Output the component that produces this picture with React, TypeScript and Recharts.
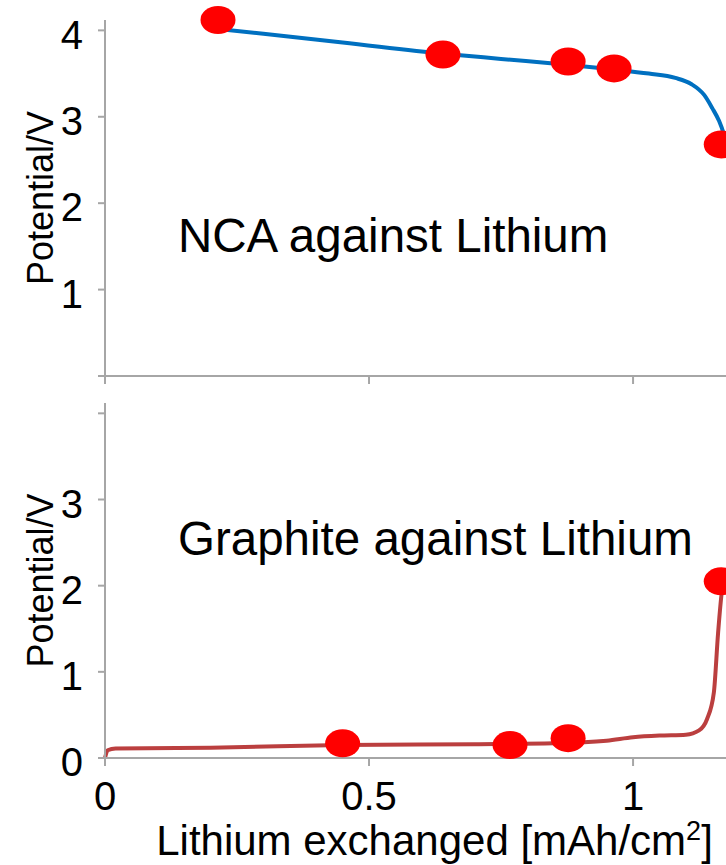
import { ComposedChart, Line, Scatter, XAxis, YAxis } from 'recharts';

const FONT = '"Liberation Sans", Arial, Helvetica, sans-serif';
const AXIS_GREY = '#a6a6a6';

// capacity axis (mAh/cm2)
const xTicks = [0, 0.5, 1];
const xDomain = [0, 1.176];
const voltTicks = [0, 1, 2, 3, 4];

// NCA against Lithium
const ncaLineX = [0.21, 0.3, 0.45, 0.64, 0.75, 0.88, 0.96, 1.03, 1.08, 1.11, 1.135, 1.15, 1.163, 1.172, 1.176];
const ncaLineV = [4.02, 3.96, 3.86, 3.73, 3.67, 3.6, 3.55, 3.5, 3.45, 3.38, 3.25, 3.1, 2.95, 2.8, 2.72];
const ncaDotX = [0.214, 0.64, 0.877, 0.964, 1.167];
const ncaDotV = [4.12, 3.72, 3.64, 3.56, 2.68];

// Graphite against Lithium
const graLineX = [0, 0.005, 0.02, 0.2, 0.45, 0.7, 0.85, 0.95, 1.0, 1.05, 1.1, 1.125, 1.14, 1.153, 1.161, 1.167, 1.176];
const graLineV = [0, 0.09, 0.11, 0.12, 0.15, 0.16, 0.17, 0.2, 0.24, 0.26, 0.27, 0.32, 0.45, 0.76, 1.45, 1.87, 2.2];
const graDotX = [0.45, 0.767, 0.877, 1.167];
const graDotV = [0.17, 0.15, 0.23, 2.05];

const zip = (xs: number[], ys: number[]) => xs.map((x, i) => ({ x, y: ys[i] }));

const ncaLine = zip(ncaLineX, ncaLineV);
const ncaDots = zip(ncaDotX, ncaDotV);
const graLine = zip(graLineX, graLineV);
const graDots = zip(graDotX, graDotV);

const RedDot = (props: any) => (
  <ellipse cx={props.cx} cy={props.cy} rx={17.5} ry={14} fill="#ff0000" />
);

const YTitle = ({ viewBox }: any) => (
  <text
    x={53}
    y={viewBox.y + viewBox.height / 2}
    transform={`rotate(-90, 53, ${viewBox.y + viewBox.height / 2})`}
    textAnchor="middle"
    fontSize={36}
    fontFamily={FONT}
    fill="#000"
  >
    Potential/V
  </text>
);

// bottom panel sits 383px down the page, title baseline at page y 855
const XTitle = ({ viewBox }: any) => (
  <text
    x={viewBox.x + viewBox.width / 2 + 19}
    y={855 - 383}
    textAnchor="middle"
    fontSize={42}
    fontFamily={FONT}
    fill="#000"
  >
    Lithium exchanged [mAh/cm
    <tspan dy={-15} fontSize={27}>2</tspan>
    <tspan dy={15}>]</tspan>
  </text>
);

const tickStyle = { fontSize: 40, fill: '#000', fontFamily: FONT };
const axisLine = { stroke: AXIS_GREY, strokeWidth: 2 };
const tickLine = { stroke: AXIS_GREY, strokeWidth: 2 };
const NoLabel = () => <g />;

const VoltTick = ({ x, y, payload, hideVolt }: any) =>
  payload.value === hideVolt ? (
    <g />
  ) : (
    <text x={x} y={y + 4} dy="0.355em" textAnchor="end" {...tickStyle}>
      {payload.value}
    </text>
  );

interface PanelProps {
  line: { x: number; y: number }[];
  dots: { x: number; y: number }[];
  color: string;
  caption: string;
  captionY: number;
  height: number;
  xAxisHeight: number;
  showXLabels: boolean;
  hideVolt: number;
}

function Panel({ line, dots, color, caption, captionY, height, xAxisHeight, showXLabels, hideVolt }: PanelProps) {
  return (
    <ComposedChart width={726} height={height} margin={{ top: 20, right: 0, bottom: 0, left: 0 }}>
      <XAxis
        dataKey="x"
        type="number"
        domain={xDomain}
        ticks={xTicks}
        height={xAxisHeight}
        axisLine={axisLine}
        tickLine={tickLine}
        tickSize={8}
        tickMargin={16}
        tick={showXLabels ? tickStyle : NoLabel}
        tickFormatter={(v: number) => String(v)}
        label={showXLabels ? { content: XTitle } : undefined}
      />
      <YAxis
        dataKey="y"
        type="number"
        domain={[0, 4.12]}
        ticks={voltTicks}
        width={105}
        axisLine={axisLine}
        tickLine={tickLine}
        tickSize={7}
        tickMargin={15}
        tick={(p: any) => <VoltTick {...p} hideVolt={hideVolt} />}
        label={{ content: YTitle }}
      />
      <Line
        data={line}
        dataKey="y"
        type="monotone"
        stroke={color}
        strokeWidth={4}
        dot={false}
        isAnimationActive={false}
      />
      <Scatter data={dots} dataKey="y" shape={RedDot} isAnimationActive={false} />
      <text x={178} y={captionY} fontSize={47.5} fontFamily={FONT} fill="#000">
        {caption}
      </text>
    </ComposedChart>
  );
}

export default function App() {
  return (
    <div
      style={{
        position: 'absolute',
        left: 0,
        top: 0,
        width: 726,
        height: 865,
        background: '#fff',
        overflow: 'hidden',
        fontFamily: FONT,
      }}
    >
      <div style={{ position: 'absolute', left: 0, top: 0 }}>
        <Panel
          line={ncaLine}
          dots={ncaDots}
          color="#0070c0"
          caption="NCA against Lithium"
          captionY={252}
          height={390}
          xAxisHeight={14}
          showXLabels={false}
          hideVolt={0}
        />
      </div>
      <div style={{ position: 'absolute', left: 0, top: 383 }}>
        <Panel
          line={graLine}
          dots={graDots}
          color="#bb3f3f"
          caption="Graphite against Lithium"
          captionY={555 - 383}
          height={482}
          xAxisHeight={107}
          showXLabels={true}
          hideVolt={4}
        />
      </div>
    </div>
  );
}
